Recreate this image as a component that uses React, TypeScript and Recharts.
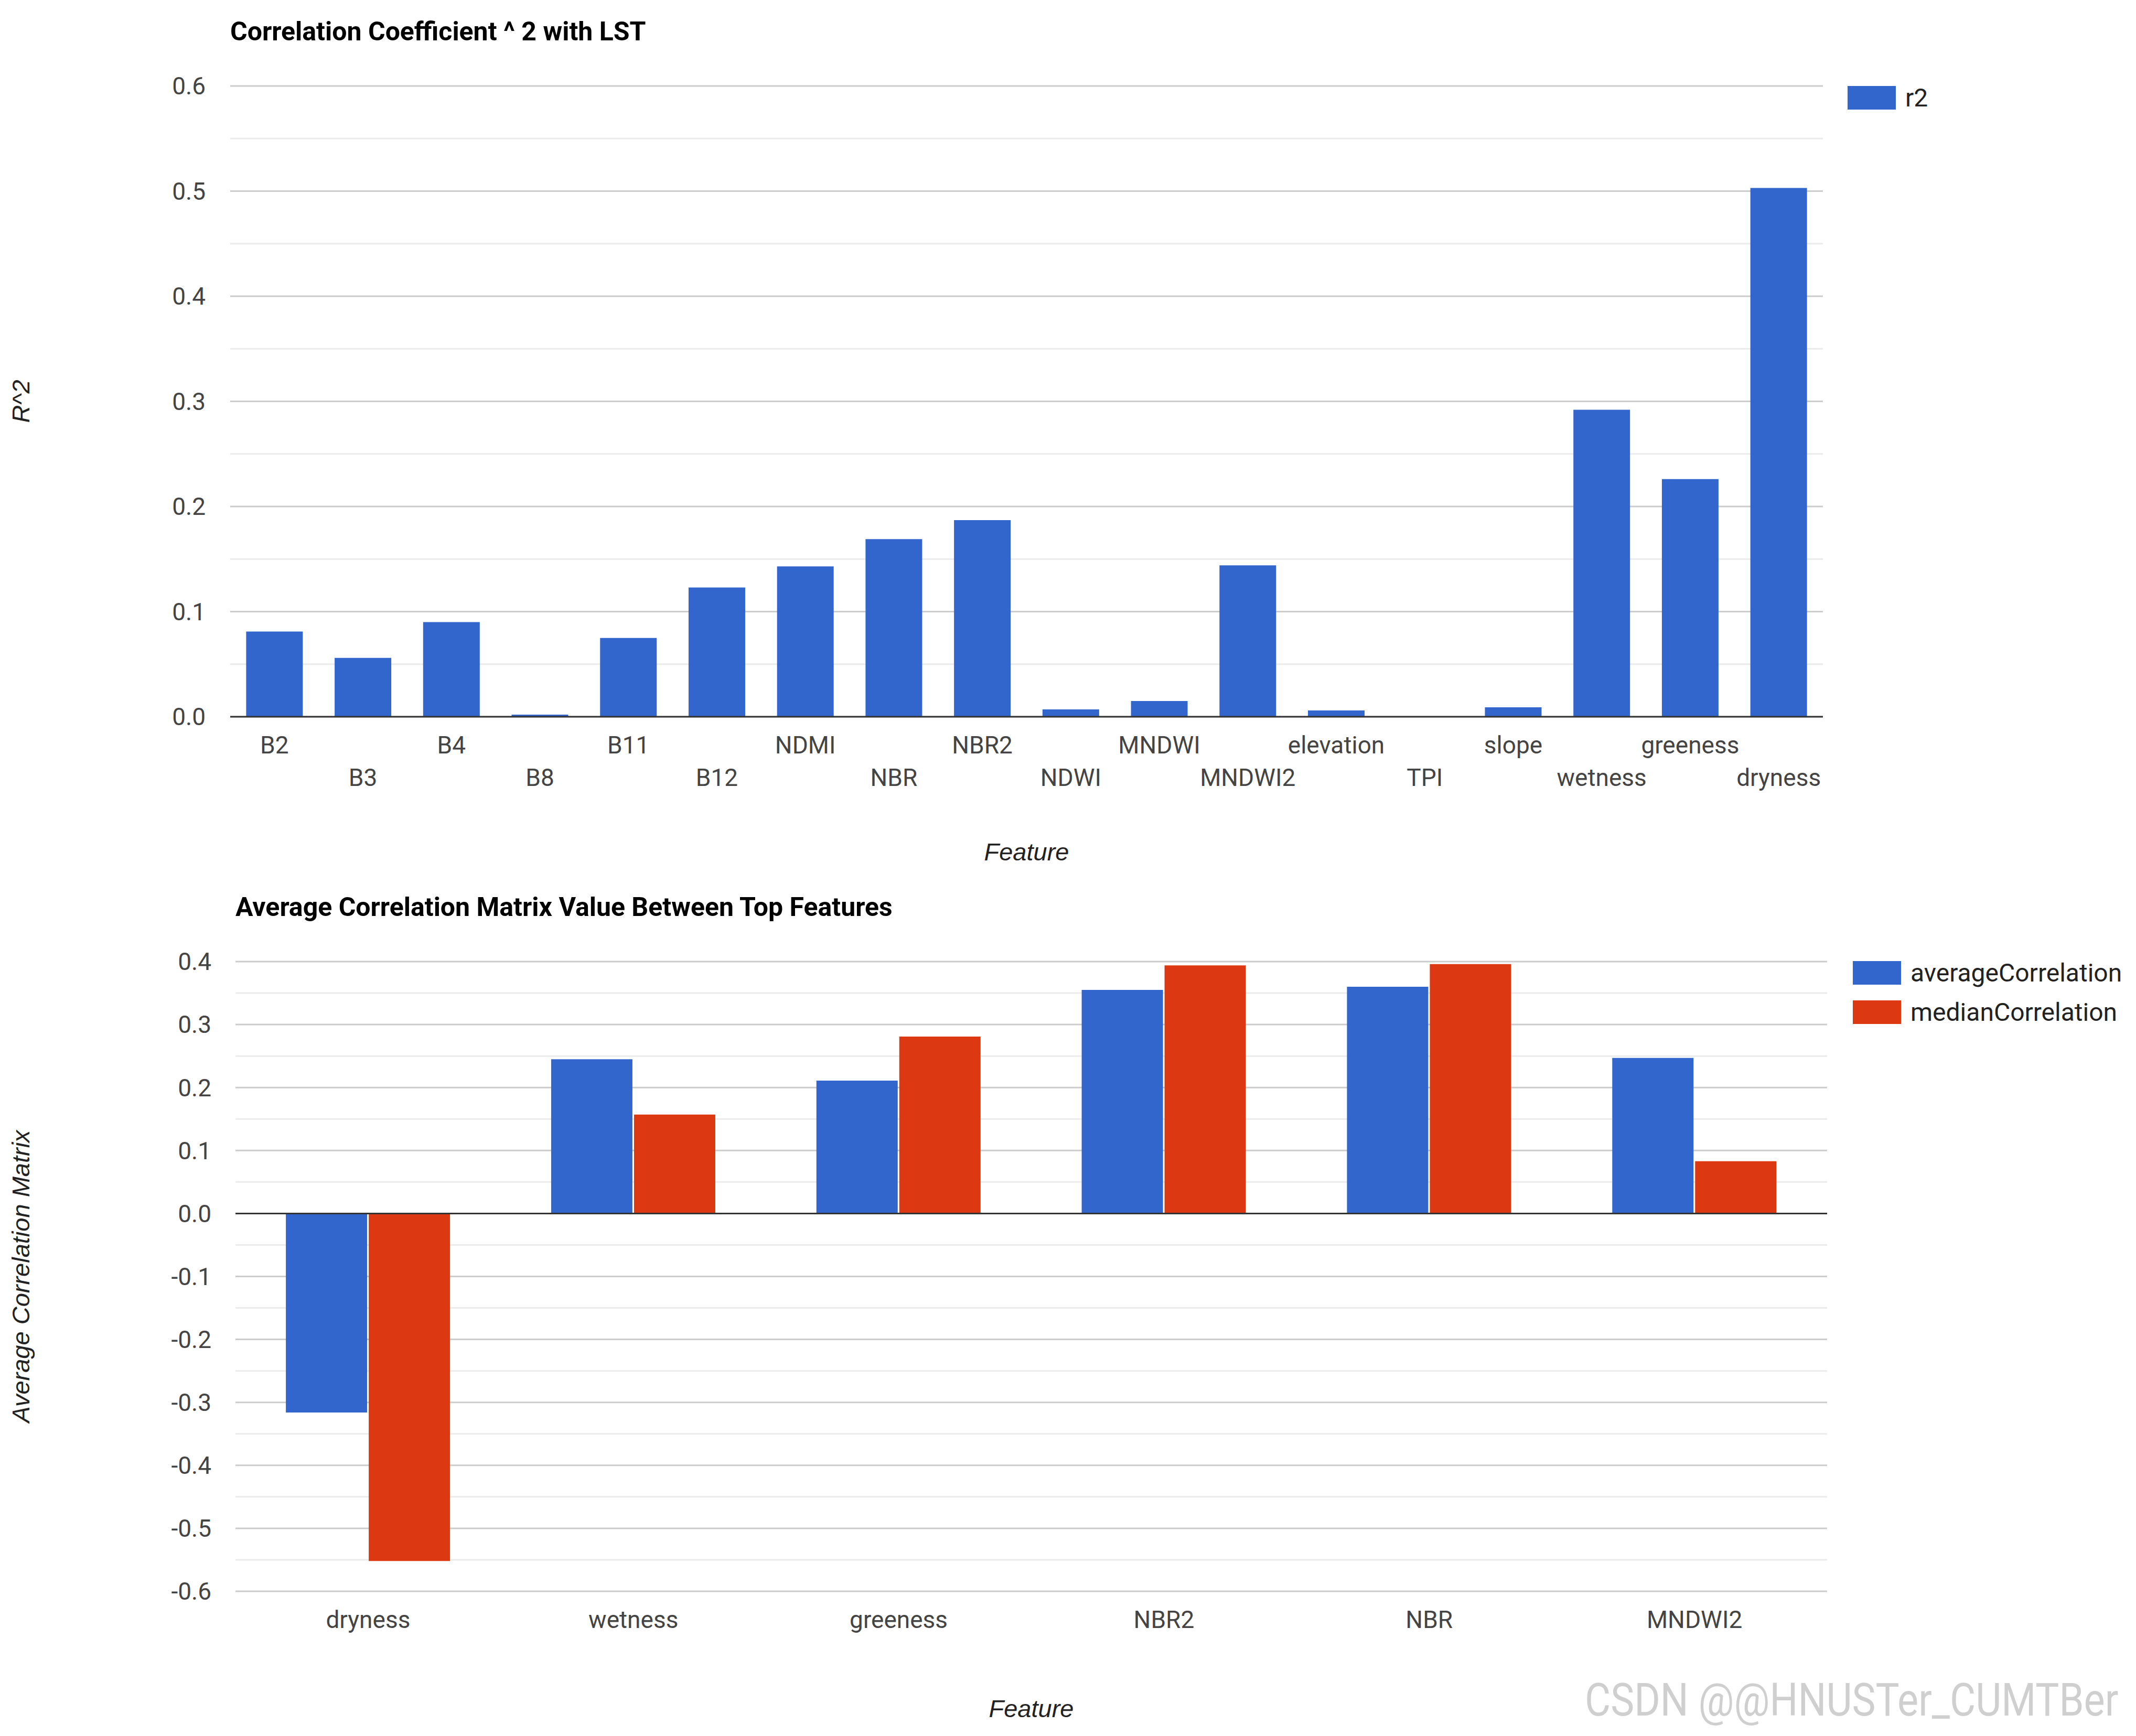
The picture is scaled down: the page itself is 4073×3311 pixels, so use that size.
import React from 'react';
import { BarChart, Bar, XAxis, YAxis, CartesianGrid, ReferenceLine, Legend } from 'recharts';

// r^2 of each feature against LST
const features = [
  'B2', 'B3', 'B4', 'B8', 'B11', 'B12', 'NDMI', 'NBR', 'NBR2', 'NDWI',
  'MNDWI', 'MNDWI2', 'elevation', 'TPI', 'slope', 'wetness', 'greeness', 'dryness',
];
const r2Values = [
  0.081, 0.056, 0.09, 0.002, 0.075, 0.123, 0.143, 0.169, 0.187, 0.007,
  0.015, 0.144, 0.006, 0.0005, 0.009, 0.292, 0.226, 0.503,
];
const r2Ticks = [0, 0.05, 0.1, 0.15, 0.2, 0.25, 0.3, 0.35, 0.4, 0.45, 0.5, 0.55, 0.6];

// correlation between the top features
const topFeatures = ['dryness', 'wetness', 'greeness', 'NBR2', 'NBR', 'MNDWI2'];
const averageCorrelation = [-0.316, 0.245, 0.211, 0.355, 0.36, 0.247];
const medianCorrelation = [-0.552, 0.157, 0.281, 0.394, 0.396, 0.083];
const corrTicks = [
  -0.6, -0.55, -0.5, -0.45, -0.4, -0.35, -0.3, -0.25, -0.2, -0.15, -0.1,
  -0.05, 0, 0.05, 0.1, 0.15, 0.2, 0.25, 0.3, 0.35, 0.4,
];

const r2Data = features.map((feature, i) => ({ feature, r2: r2Values[i] }));
const corrData = topFeatures.map((feature, i) => ({
  feature,
  averageCorrelation: averageCorrelation[i],
  medianCorrelation: medianCorrelation[i],
}));

const BLUE = '#3366cc';
const RED = '#dc3912';
const FONT = 'Roboto, Arial, sans-serif';
const AXIS_TITLE_FONT = '"Liberation Sans", Arial, sans-serif';

const isMajor = (v: number) => Math.round(v * 100) % 10 === 0;
const fmt = (v: number) => (isMajor(v) ? v.toFixed(1) : '');

// major lines every 0.1, faint ones between
const gridLine = (props: any) => (
  <line
    key={`g-${props.index}`}
    x1={props.x1}
    y1={props.y1}
    x2={props.x2}
    y2={props.y2}
    stroke={props.index % 2 === 0 ? '#cccccc' : '#ebebeb'}
    strokeWidth={3}
  />
);

const StaggeredTick = (props: any) => {
  const { x, y, payload, index } = props;
  return (
    <text x={x} y={y + (index % 2 === 0 ? 70 : 132)} textAnchor="middle" fill="#444" fontSize={46} fontFamily={FONT}>
      {payload.value}
    </text>
  );
};

const PlainTick = (props: any) => (
  <text x={props.x} y={props.y + 70} textAnchor="middle" fill="#444" fontSize={46} fontFamily={FONT}>
    {props.payload.value}
  </text>
);

const sideTitle = (text: string) => (props: any) => {
  const cy = props.viewBox.y + props.viewBox.height / 2;
  return (
    <text
      x={39}
      y={cy}
      transform={`rotate(-90 39 ${cy})`}
      textAnchor="middle"
      dominantBaseline="central"
      fontStyle="italic"
      fill="#222"
      fontSize={47}
      fontFamily={AXIS_TITLE_FONT}
    >
      {text}
    </text>
  );
};

const bottomTitle = (text: string, dy: number) => (props: any) => {
  const vb = props.viewBox;
  return (
    <text
      x={vb.x + vb.width / 2}
      y={vb.y + dy}
      textAnchor="middle"
      dominantBaseline="central"
      fontStyle="italic"
      fill="#222"
      fontSize={47}
      fontFamily={AXIS_TITLE_FONT}
    >
      {text}
    </text>
  );
};

const LegendList = ({ payload }: any) => (
  <div>
    {(payload || []).map((p: any) => (
      <div key={p.value} style={{ display: 'flex', alignItems: 'center', height: 75 }}>
        <div style={{ width: 92, height: 45, background: p.color, marginRight: 18 }} />
        <span style={{ fontSize: 48, color: '#222', fontFamily: FONT }}>{p.value}</span>
      </div>
    ))}
  </div>
);

const titleStyle: React.CSSProperties = {
  position: 'absolute',
  fontFamily: FONT,
  fontWeight: 'bold',
  fontSize: 50,
  color: '#000',
  whiteSpace: 'nowrap',
  lineHeight: '50px',
};

export default function App() {
  return (
    <div style={{ position: 'absolute', left: 0, top: 0, width: 4073, height: 3311, background: '#fff', overflow: 'hidden' }}>
      <div style={{ ...titleStyle, left: 439, top: 35 }}>Correlation Coefficient ^ 2 with LST</div>
      <div style={{ position: 'absolute', left: 0, top: 0 }}>
        <BarChart
          width={4073}
          height={1650}
          data={r2Data}
          margin={{ top: 164, right: 597, bottom: 0, left: 0 }}
          barCategoryGap="18%"
        >
          <CartesianGrid vertical={false} horizontal={gridLine} />
          <XAxis
            dataKey="feature"
            interval={0}
            height={283}
            tickLine={false}
            tickSize={0}
            tickMargin={0}
            axisLine={{ stroke: '#333', strokeWidth: 3 }}
            tick={<StaggeredTick />}
            label={{ content: bottomTitle('Feature', 257) }}
          />
          <YAxis
            width={439}
            domain={[0, 0.6]}
            ticks={r2Ticks}
            interval={0}
            tickFormatter={fmt}
            axisLine={false}
            tickLine={false}
            tickSize={0}
            tickMargin={47}
            tick={{ fill: '#444', fontSize: 46, fontFamily: FONT }}
            label={{ content: sideTitle('R^2') }}
          />
          <Legend
            layout="horizontal"
            align="center"
            verticalAlign="middle"
            wrapperStyle={{ left: 3523, top: 149, width: 550 }}
            content={<LegendList />}
          />
          <Bar dataKey="r2" name="r2" fill={BLUE} isAnimationActive={false} />
        </BarChart>
      </div>

      <div style={{ ...titleStyle, left: 449, top: 1705 }}>Average Correlation Matrix Value Between Top Features</div>
      <div style={{ position: 'absolute', left: 0, top: 1650 }}>
        <BarChart
          width={4073}
          height={1661}
          data={corrData}
          margin={{ top: 184, right: 589, bottom: 0, left: 0 }}
          barCategoryGap="19%"
          barGap={3}
        >
          <CartesianGrid vertical={false} horizontal={gridLine} />
          <XAxis
            dataKey="feature"
            interval={0}
            height={276}
            tickLine={false}
            tickSize={0}
            tickMargin={0}
            axisLine={false}
            tick={<PlainTick />}
            label={{ content: bottomTitle('Feature', 223) }}
          />
          <YAxis
            width={449}
            domain={[-0.6, 0.4]}
            ticks={corrTicks}
            interval={0}
            tickFormatter={fmt}
            axisLine={false}
            tickLine={false}
            tickSize={0}
            tickMargin={46}
            tick={{ fill: '#444', fontSize: 46, fontFamily: FONT }}
            label={{ content: sideTitle('Average Correlation Matrix') }}
          />
          <ReferenceLine y={0} stroke="#333" strokeWidth={3} />
          <Legend
            layout="horizontal"
            align="center"
            verticalAlign="middle"
            wrapperStyle={{ left: 3533, top: 168, width: 540 }}
            content={<LegendList />}
          />
          <Bar dataKey="averageCorrelation" name="averageCorrelation" fill={BLUE} isAnimationActive={false} />
          <Bar dataKey="medianCorrelation" name="medianCorrelation" fill={RED} isAnimationActive={false} />
        </BarChart>
      </div>

      <div
        style={{
          position: 'absolute',
          left: 3022,
          top: 3194,
          fontFamily: FONT,
          fontSize: 88,
          color: '#cfcfcf',
          whiteSpace: 'nowrap',
          lineHeight: '96px',
          transform: 'scaleX(0.86)',
          transformOrigin: 'left center',
        }}
      >
        CSDN @@HNUSTer_CUMTBer
      </div>
    </div>
  );
}
